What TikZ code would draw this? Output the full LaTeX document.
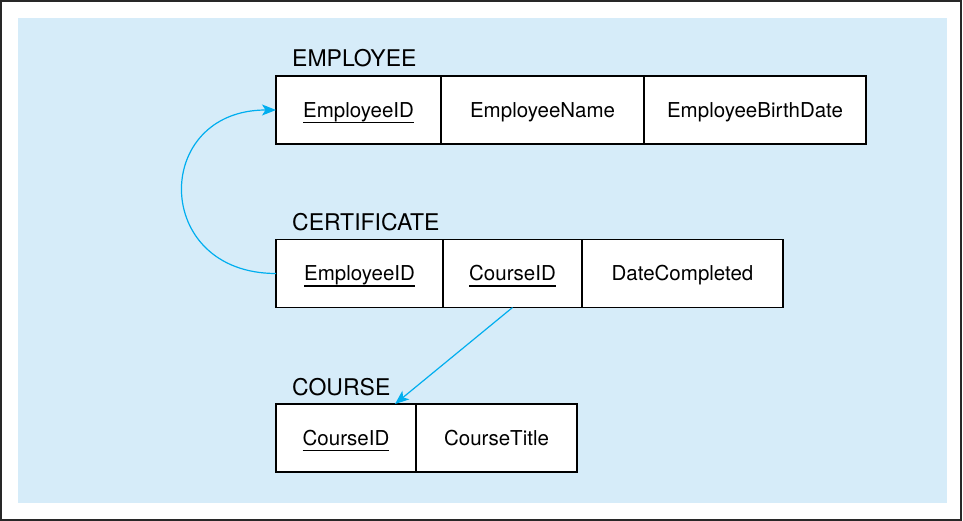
\documentclass[tikz,border=0pt]{standalone}
\usepackage{fontspec}
\setmainfont{TeX Gyre Heros}
\usetikzlibrary{arrows.meta, positioning, calc}
\definecolor{panelblue}{RGB}{214, 236, 249}
\definecolor{linkcyan}{RGB}{0, 174, 239}
\definecolor{framegray}{RGB}{40, 40, 40}

\newcommand{\pkey}[1]{\setbox0\hbox{#1}\rlap{\rule[-6pt]{\wd0}{1.3pt}}\box0}

\tikzset{
    attr/.style={draw=black, fill=white, line width=1.2pt, minimum height=68pt,
                 inner sep=0pt, outer sep=0pt, text height=14.5pt, text depth=0pt,
                 font=\fontsize{20.5}{23}\selectfont},
    relname/.style={anchor=base west, inner sep=0pt, font=\fontsize{23}{27}\selectfont},
    fklink/.style={draw=linkcyan, line width=1.2pt, -{Stealth[length=14pt, width=11pt, inset=3.5pt]}}
}

\begin{document}
\begin{tikzpicture}[x=1pt, y=-1pt]
            \useasboundingbox (0,0) rectangle (963,521);
            \draw[framegray, line width=2pt] (1,1) rectangle (961,520);
            \fill[panelblue] (18,18) rectangle (947,503);

            % EMPLOYEE
            \node[attr, minimum width=165pt, anchor=west] (emp1) at (276,110) {\pkey{EmployeeID}};
            \node[attr, minimum width=203pt, right=0pt of emp1] (emp2) {EmployeeName};
            \node[attr, minimum width=222pt, right=0pt of emp2] (emp3) {EmployeeBirthDate};
            \node[relname] (emptitle) at ([xshift=16pt, yshift=9pt]emp1.north west) {EMPLOYEE};

            % CERTIFICATE
            \node[attr, minimum width=167pt, anchor=west] (cert1) at (276,273.5) {\pkey{EmployeeID}};
            \node[attr, minimum width=139pt, right=0pt of cert1] (cert2) {\pkey{CourseID}};
            \node[attr, minimum width=201pt, right=0pt of cert2] (cert3) {DateCompleted};
            \node[relname] (certtitle) at ([xshift=16pt, yshift=8.5pt]cert1.north west) {CERTIFICATE};

            % COURSE
            \node[attr, minimum width=140pt, anchor=west] (crs1) at (276,438) {\pkey{CourseID}};
            \node[attr, minimum width=161pt, right=0pt of crs1] (crs2) {CourseTitle};
            \node[relname] (crstitle) at ([xshift=16pt, yshift=8.5pt]crs1.north west) {COURSE};

            % foreign keys
            \coordinate (crsin) at ($(crs1.north west)!0.85!(crs1.north east)$);
            \draw[fklink] (cert1.west) to[out=180, in=180, looseness=1.95] (emp1.west);
            \draw[fklink] (cert2.south) -- (crsin);
        \end{tikzpicture}
\end{document}
